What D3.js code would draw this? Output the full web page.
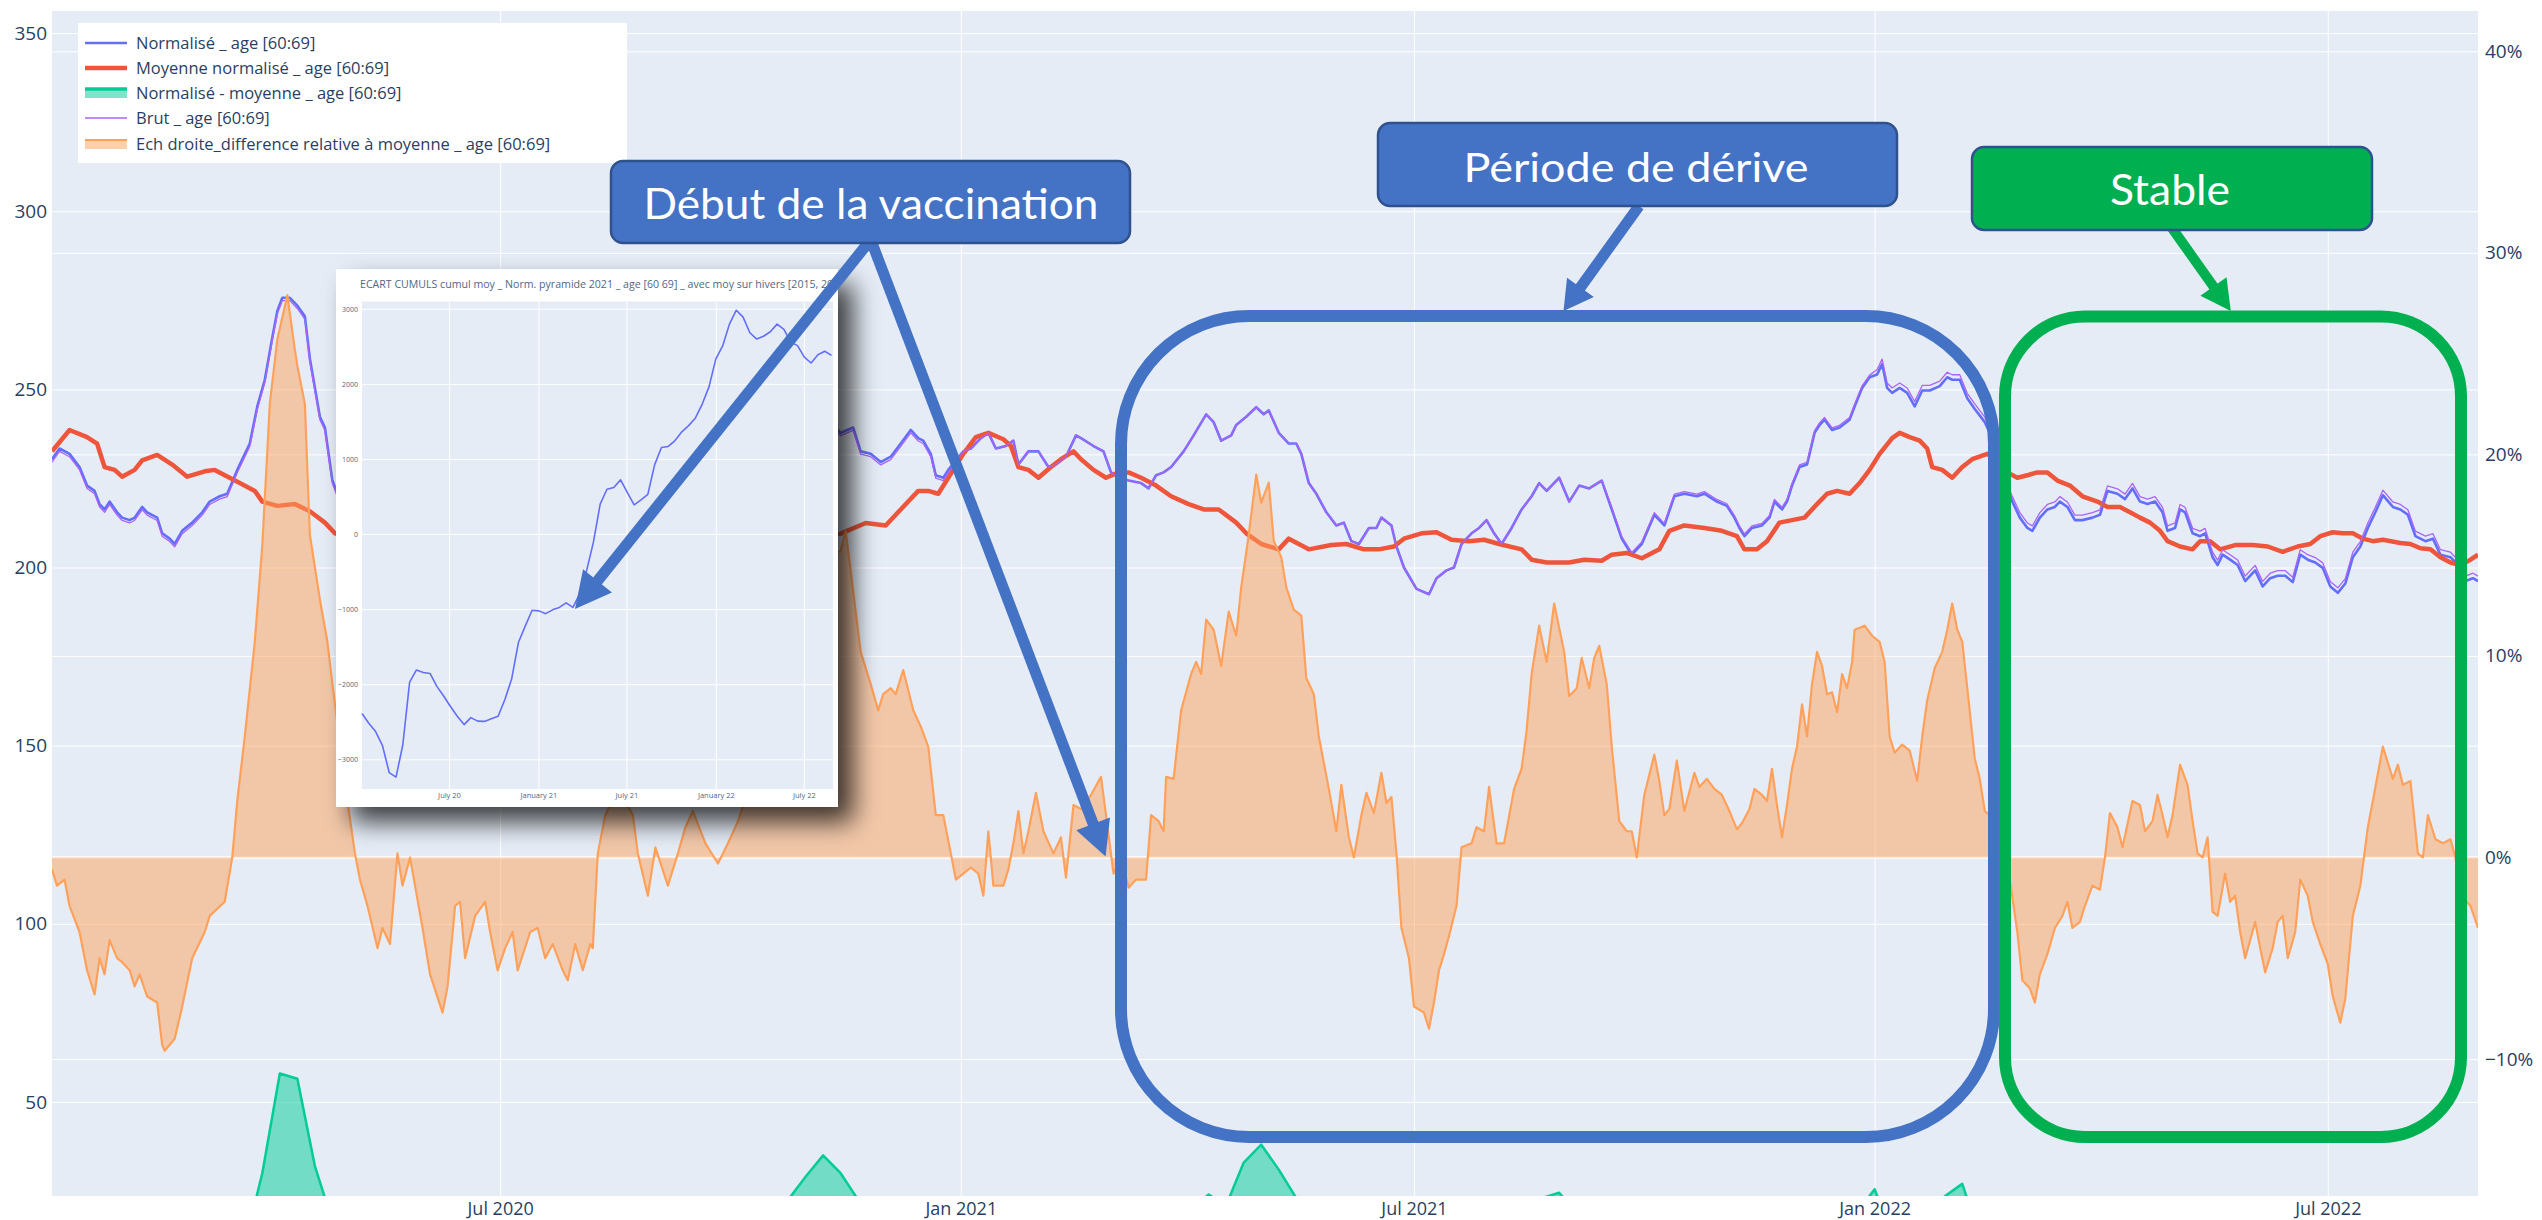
<!DOCTYPE html>
<html><head><meta charset="utf-8">
<script src="https://cdn.jsdelivr.net/npm/d3@7"></script>
<style>html,body{margin:0;padding:0;background:#fff;overflow:hidden}svg{display:block}</style>
</head><body>
<svg id="chart" width="2542" height="1220"></svg>
<script>
// ================= DATA =================
// x positions are given as days since startDate
const startDate = "2020-01-04";
const endDate = "2022-08-30";

// Normalisé _ age [60:69]  [day, value]
const normalisePts = [[0,230.4],[3,233.4],[7,231.9],[11,228.2],[14,223.0],[17,221.5],[19,217.8],[21,216.3],[23,218.5],[26,215.5],
[28,214.0],[31,213.3],[33,214.0],[36,217.0],[38,215.5],[42,214.0],[44,209.6],[47,208.1],[49,206.6],[52,210.3],
[56,212.6],[60,215.5],[63,218.5],[67,220.0],[70,220.7],[74,227.4],[79,234.8],[82,245.2],[85,252.7],[88,264.6],
[90,272.0],[92,275.7],[95,275.7],[98,273.5],[101,270.5],[103,258.6],[107,242.3],[109,239.3],[112,224.4],[119,211.5],
[126,202],[133,199],[140,203],[147,199],[154,190.5],[161,200.5],[168,199.5],[175,198],[182,198],[189,198],
[196,198],[203,197.5],[210,197],[217,204],[224,211.5],[231,209.5],[238,202],[245,202],[252,206.5],[259,208],
[266,206.5],[273,210],[280,216],[287,223.5],[294,231],[301,238.5],[308,243],[315,237.8],[320,239.3],[323,232.6],
[327,231.9],[331,229.6],[335,231.1],[339,234.8],[343,238.6],[346,236.3],[348,235.6],[351,231.9],[353,225.9],[356,225.2],
[358,227.4],[364,232.6],[367,233.4],[371,236.3],[374,237.8],[377,233.4],[381,234.1],[384,235.6],[386,228.9],[390,232.6],
[394,232.6],[398,228.2],[401,228.9],[405,231.1],[409,237.1],[411,236.3],[416,234.1],[420,232.6],[423,226.7],[426,225.2],
[430,224.4],[435,223.7],[438,222.2],[441,225.9],[444,226.7],[447,228.2],[452,232.6],[456,237.1],[461,243.0],[464,240.8],
[467,235.6],[471,237.1],[473,240.0],[477,242.3],[481,245.0],[484,243.0],[486,244.1],[490,237.8],[494,234.8],[497,234.8],
[499,231.9],[502,223.7],[505,220.7],[509,215.5],[513,211.8],[516,212.6],[519,207.4],[522,206.6],[526,211.1],[529,211.1],
[531,214.0],[535,211.8],[537,205.9],[540,200.0],[545,194.0],[550,192.5],[553,197.0],[557,199.2],[560,200.0],[563,206.6],
[567,209.6],[570,211.1],[573,213.3],[576,209.6],[579,206.6],[583,211.1],[587,216.3],[591,220.0],[594,223.7],[597,221.5],
[602,225.2],[606,218.5],[610,223.0],[614,222.2],[619,224.4],[623,216.3],[627,208.1],[631,203.6],[635,206.6],[640,214.8],
[644,211.8],[648,220.0],[652,220.7],[657,220.0],[660,220.7],[665,218.5],[669,217.3],[672,214.0],[674,211.1],[676,208.8],
[679,211.1],[683,211.8],[686,214.0],[688,218.5],[691,216.3],[693,218.5],[695,223.0],[698,228.2],[701,228.9],[704,237.8],
[706,240.0],[708,241.5],[711,238.6],[714,239.3],[718,241.5],[720,245.2],[723,250.4],[726,253.4],[729,254.2],[731,257.1],
[733,250.4],[735,249.0],[738,250.4],[741,249.0],[744,245.2],[747,249.7],[750,249.7],[754,250.9],[757,253.4],[759,252.7],
[762,252.7],[765,247.5],[768,244.5],[772,240.8],[775,236.3],[777,231.9],[780,224.4],[783,218.5],[786,214.0],[789,211.1],
[791,210.3],[794,214.0],[797,216.3],[800,217.0],[802,218.5],[805,217.0],[808,213.3],[811,213.3],[815,214.0],[818,214.8],
[821,221.5],[825,220.7],[828,219.2],[831,222.2],[834,218.5],[837,217.8],[840,218.5],[843,215.5],[845,210.3],[848,211.1],
[850,216.3],[852,215.5],[855,209.6],[858,208.8],[860,209.6],[863,202.9],[865,200.7],[867,203.6],[870,202.2],[873,200.7],
[876,196.2],[880,199.2],[883,194.7],[886,197.0],[889,197.7],[892,197.7],[895,195.9],[898,203.6],[901,202.2],[904,201.4],
[907,199.9],[910,194.7],[913,192.9],[916,195.5],[919,202.9],[922,205.9],[925,211.1],[928,215.5],[931,220.3],[935,217.0],
[938,216.3],[941,214.8],[944,208.8],[948,207.4],[951,208.1],[954,203.6],[958,202.9],[961,200.7],[964,196.2],[967,197.0],
[969,196.2]];

// Brut _ age [60:69]  [day, value]
const brutPts = [[0,229.6],[3,232.6],[7,231.1],[11,227.4],[14,222.2],[17,220.7],[19,217.0],[21,215.5],[23,217.7],[26,214.7],
[28,213.2],[31,212.5],[33,213.2],[36,216.2],[38,214.7],[42,213.2],[44,208.8],[47,207.3],[49,205.8],[52,209.5],
[56,211.8],[60,214.7],[63,217.7],[67,219.2],[70,219.9],[74,226.6],[79,234.0],[82,244.4],[85,251.9],[88,263.8],
[90,271.2],[92,274.9],[95,274.9],[98,272.7],[101,269.7],[103,257.8],[107,241.5],[109,238.5],[112,223.6],[119,210.7],
[126,201.2],[133,198.2],[140,202.2],[147,198.2],[154,189.7],[161,199.7],[168,198.7],[175,197.2],[182,197.2],[189,197.2],
[196,197.2],[203,196.7],[210,196.2],[217,203.2],[224,210.7],[231,208.7],[238,201.2],[245,201.2],[252,205.7],[259,207.2],
[266,205.7],[273,209.2],[280,215.2],[287,222.7],[294,230.2],[301,237.7],[308,242.2],[315,237.0],[320,238.5],[323,231.8],
[327,231.1],[331,228.8],[335,230.3],[339,234.0],[343,237.8],[346,235.5],[348,234.8],[351,231.1],[353,225.1],[356,224.4],
[358,226.6],[364,232.6],[367,233.4],[371,236.3],[374,237.8],[377,233.4],[381,234.1],[384,235.6],[386,228.9],[390,232.6],
[394,232.6],[398,228.2],[401,228.9],[405,231.1],[409,237.1],[411,236.3],[416,234.1],[420,232.6],[423,226.7],[426,225.2],
[430,224.4],[435,223.7],[438,222.2],[441,225.9],[444,226.7],[447,228.2],[452,232.6],[456,237.1],[461,243.0],[464,240.8],
[467,235.6],[471,237.1],[473,240.0],[477,242.3],[481,245.0],[484,243.0],[486,244.1],[490,237.8],[494,234.8],[497,234.8],
[499,231.9],[502,223.7],[505,220.7],[509,215.5],[513,211.8],[516,212.6],[519,207.4],[522,206.6],[526,211.1],[529,211.1],
[531,214.0],[535,211.8],[537,205.9],[540,200.0],[545,194.0],[550,192.5],[553,197.0],[557,199.2],[560,200.0],[563,206.6],
[567,209.6],[570,211.1],[573,213.3],[576,209.6],[579,206.6],[583,211.1],[587,216.3],[591,220.0],[594,223.7],[597,221.5],
[602,225.2],[606,218.5],[610,223.0],[614,222.2],[619,224.4],[623,216.9],[627,208.7],[631,204.2],[635,207.2],[640,215.4],
[644,212.4],[648,220.6],[652,221.3],[657,220.6],[660,221.3],[665,219.1],[669,217.9],[672,214.6],[674,211.7],[676,209.4],
[679,211.7],[683,212.4],[686,214.6],[688,219.1],[691,216.9],[693,219.1],[695,223.6],[698,228.8],[701,229.5],[704,238.4],
[706,240.6],[708,242.1],[711,239.2],[714,239.9],[718,242.1],[720,245.8],[723,251.0],[726,254.0],[729,255.6],[731,258.5],
[733,251.8],[735,250.4],[738,251.8],[741,250.4],[744,246.6],[747,251.1],[750,251.1],[754,252.3],[757,254.8],[759,254.1],
[762,254.1],[765,248.9],[768,245.9],[772,242.2],[775,237.7],[777,233.3],[780,225.8],[783,219.9],[786,215.4],[789,212.5],
[791,211.7],[794,215.4],[797,217.7],[800,218.4],[802,219.9],[805,218.4],[808,214.7],[811,214.7],[815,215.4],[818,216.2],
[821,222.9],[825,222.1],[828,220.6],[831,223.6],[834,219.9],[837,219.2],[840,219.9],[843,216.9],[845,211.7],[848,212.5],
[850,217.7],[852,216.9],[855,211.0],[858,210.2],[860,211.0],[863,204.3],[865,202.1],[867,205.0],[870,203.6],[873,202.1],
[876,197.6],[880,200.6],[883,196.1],[886,198.4],[889,199.1],[892,199.1],[895,197.3],[898,205.0],[901,203.6],[904,202.8],
[907,201.3],[910,196.1],[913,194.3],[916,196.9],[919,204.3],[922,207.3],[925,212.5],[928,216.9],[931,221.7],[935,218.4],
[938,217.7],[941,216.2],[944,210.2],[948,208.8],[951,209.5],[954,205.0],[958,204.3],[961,202.1],[964,197.6],[967,198.4],
[969,197.6]];

// Moyenne normalisé _ age [60:69]  [day, value]
const moyennePts = [[0,232.6],[7,238.6],[14,236.6],[18,234.8],[21,228.2],[25,227.4],[28,225.5],[33,227.4],[36,230.1],[42,231.6],
[48,228.9],[54,225.5],[61,227.0],[65,227.4],[69,225.9],[75,223.7],[81,221.5],[84,218.5],[90,217.3],[97,217.8],
[103,215.8],[109,212.6],[113,209.6],[119,208.5],[126,207],[133,206.5],[140,206],[147,205.5],[154,205],[161,205.5],
[168,206],[175,206.5],[182,207],[189,207],[196,207.5],[203,208],[210,207],[217,206.5],[224,206],[231,205.5],
[238,205],[245,204.5],[252,205],[259,205],[266,206],[273,207],[280,207.5],[287,208],[294,208.5],[301,209.5],
[308,209],[315,209.5],[325,212.5],[333,211.8],[339,216.3],[346,221.5],[350,221.5],[354,220.7],[358,225.2],[364,231.9],
[369,236.6],[374,237.8],[380,236.0],[383,234.1],[386,228.2],[390,227.4],[394,225.2],[399,228.2],[403,230.4],[408,232.6],
[411,230.4],[416,227.4],[421,225.2],[426,226.7],[430,226.7],[435,225.2],[441,223.0],[447,220.0],[454,217.8],[460,216.3],
[466,216.3],[473,212.6],[477,209.6],[483,206.6],[490,205.1],[494,208.1],[498,206.6],[502,205.1],[511,206.3],[517,206.6],
[524,205.1],[530,205.1],[536,205.9],[540,208.1],[547,209.6],[553,209.9],[559,207.8],[566,207.4],[572,207.8],[578,206.6],
[587,205.1],[591,202.2],[597,201.4],[606,201.4],[612,202.2],[619,201.9],[623,203.6],[629,204.1],[635,202.6],[642,205.1],
[646,210.3],[652,211.8],[660,211.1],[667,210.3],[673,208.8],[676,205.1],[681,205.1],[685,207.4],[690,212.6],[695,213.3],
[700,214.0],[705,217.8],[709,220.7],[713,221.5],[718,220.7],[722,223.7],[726,227.4],[730,231.9],[735,236.3],[738,237.8],
[742,236.6],[746,235.6],[749,233.4],[751,228.2],[755,227.4],[759,225.2],[763,228.2],[767,230.4],[773,231.9],[777,229.6],
[781,226.7],[785,225.2],[789,225.9],[793,226.7],[797,226.7],[801,224.4],[806,223.0],[811,220.0],[817,218.5],[821,217.0],
[826,217.0],[830,215.5],[834,214.0],[838,212.6],[842,210.3],[845,207.4],[850,205.9],[855,205.1],[858,207.4],[862,207.4],
[866,205.1],[872,206.3],[879,206.3],[885,205.9],[891,204.4],[897,205.9],[902,206.6],[906,208.8],[911,209.9],[915,209.6],
[919,209.6],[923,208.1],[927,207.4],[931,207.8],[938,206.9],[942,206.6],[946,205.4],[950,205.1],[954,202.9],[958,201.4],
[962,200.7],[966,202.2],[969,203.6]];

// Normalisé - moyenne _ age [60:69]  (weekly from startDate, last point at endDate)
const ecartStep = 7;
const ecart = [-2.6,-5.5,-13,-12.5,-11.5,-12.5,-18.5,-21,-13,-8.5,
-5.3,10,30,58,56.5,32,16.5,3,-5,-7.5,
-3,-6.5,-14.5,-5,-6.5,-8.5,-9,-9,-9.5,-10.5,
-10,-2.5,5.5,4,-3,-2.5,1.5,3,0.5,3,
8.5,15.5,22.5,29,35,30,22.5,18.5,17,19,
10.5,2.5,1,-0.5,-3,5.5,5.6,0.5,-2,6.5,
7.5,-1.7,-1.8,3.5,8.2,20,24,21,33,38,
31,23,17.8,8.2,3.5,6.5,8.5,-3,-15.5,-13,
-8,2.2,5.8,1.5,11.3,23,24.5,19,21.5,12.7,
1,5.4,5.1,11,9,7.8,4.5,6,7.5,5.7,
13,22,18,19,25.5,12.7,11.7,16,23.5,27,
12.5,1.3,-7,-16,-10,-6.5,-6.7,-3.8,4,5.3,
6.8,5,8.5,-0.4,-1.8,-7.8,-10.8,-7.5,-9.4,-4.6,
-13.6,-14.6,-3.6,10.2,9.6,3.2,2.7,1,-5,-7];

// Ech droite_difference relative à moyenne _ age [60:69]  [day, %]
const relDiffPts = [[0,-0.6],[2,-1.4],[5,-1.1],[7,-2.4],[11,-3.7],[14,-5.6],[17,-6.8],[19,-5.0],[21,-5.8],[23,-4.1],
[26,-5.0],[28,-5.2],[31,-5.6],[33,-6.4],[35,-5.8],[38,-6.9],[42,-7.2],[44,-9.3],[45,-9.6],[49,-9.0],
[52,-7.4],[56,-5.0],[61,-3.7],[63,-2.9],[69,-2.2],[72,0],[74,2.8],[77,6.0],[81,10.7],[84,15.5],
[87,22.5],[90,25.7],[94,27.9],[97,25.2],[98,24.4],[101,22.5],[103,16.0],[107,12.8],[110,10.7],[112,8.6],
[118,2.8],[121,0.2],[123,-1.1],[126,-2.4],[130,-4.5],[132,-3.5],[135,-4.3],[138,0.2],[140,-1.4],[143,0],
[145,-1.4],[148,-3.5],[151,-5.8],[156,-7.7],[158,-6.4],[161,-2.4],[163,-2.2],[165,-5.0],[169,-2.9],[173,-2.2],
[175,-3.7],[178,-5.6],[181,-4.5],[184,-3.7],[186,-5.6],[191,-3.7],[194,-3.5],[197,-5.0],[200,-4.3],[204,-5.6],
[206,-6.1],[209,-4.3],[212,-5.6],[215,-4.3],[216,-4.5],[218,0.2],[221,2.1],[223,2.6],[228,3.0],[232,2.1],
[234,0.2],[238,-1.9],[241,0.5],[246,-1.4],[250,0.2],[253,1.5],[256,2.3],[261,0.7],[266,-0.3],[270,0.7],
[274,1.8],[280,4.0],[287,7.5],[294,10.5],[301,13.0],[308,15.0],[315,15.2],[317,16.2],[323,10.2],[327,8.6],
[330,7.3],[332,8.1],[335,8.4],[337,8.1],[340,9.3],[344,7.3],[347,6.5],[350,5.5],[353,2.1],[356,2.1],
[359,0.2],[361,-1.1],[364,-0.8],[367,-0.5],[370,-0.8],[372,-1.9],[374,1.3],[376,-1.4],[380,-1.4],[382,-0.6],
[384,0.7],[386,2.3],[388,0.2],[390,1.3],[393,3.2],[396,1.3],[400,0.2],[403,1.0],[405,-1.0],[408,2.6],
[411,2.4],[415,3.1],[419,4.0],[421,2.1],[424,-0.8],[427,0],[430,-1.5],[433,-1.1],[437,-1.1],[439,2.1],
[442,1.8],[444,1.3],[445,4.0],[448,3.9],[451,7.3],[455,9.1],[457,9.7],[459,9.1],[461,11.8],[464,11.3],
[467,9.5],[470,12.2],[473,11.0],[475,13.4],[478,16.0],[481,19.0],[483,17.6],[486,18.6],[488,15.7],[491,14.9],
[493,13.4],[496,12.3],[499,12.0],[501,8.9],[504,8.1],[506,6.0],[510,3.4],[513,1.3],[515,3.6],[518,1.0],
[520,0],[523,2.1],[525,3.2],[528,2.2],[531,4.2],[533,2.7],[535,3.0],[537,0.2],[539,-3.5],[542,-5.0],
[544,-7.4],[548,-7.7],[550,-8.5],[552,-7.2],[554,-5.6],[556,-4.8],[558,-3.9],[561,-2.4],[563,0.5],[567,0.7],
[569,1.5],[572,1.3],[574,3.5],[577,0.7],[580,0.7],[584,3.4],[587,4.4],[589,6.3],[591,9.1],[594,11.5],
[597,9.7],[600,12.6],[604,10.2],[606,8.0],[609,8.4],[611,9.9],[614,8.4],[616,9.9],[618,10.5],[621,8.6],
[623,5.5],[626,1.8],[629,1.3],[631,1.3],[633,0],[636,3.1],[640,5.1],[642,3.8],[644,2.1],[646,2.4],
[649,4.8],[652,2.3],[656,4.2],[658,3.5],[661,3.9],[664,3.4],[667,3.1],[670,2.3],[673,1.4],[675,1.7],
[678,2.4],[680,3.4],[683,3.1],[685,2.8],[687,4.4],[689,2.6],[691,1.0],[693,2.6],[695,4.4],[697,5.5],
[699,7.6],[701,6.0],[703,8.6],[705,10.2],[707,9.5],[709,8.1],[711,8.2],[713,7.2],[715,9.1],[717,8.4],
[719,9.7],[720,11.3],[724,11.5],[727,11.0],[730,10.7],[732,9.7],[734,6.0],[736,5.2],[739,5.6],[742,5.3],
[745,3.8],[747,6.0],[749,7.8],[752,9.4],[755,10.2],[757,11.3],[759,12.6],[761,11.3],[763,10.7],[765,8.4],
[768,4.9],[770,3.9],[772,2.3],[774,2.1],[777,0.2],[779,-0.8],[782,-1.1],[785,-3.7],[787,-6.1],[790,-6.5],
[792,-7.2],[794,-5.8],[797,-4.8],[800,-3.5],[803,-2.9],[805,-2.2],[807,-3.5],[810,-3.2],[812,-2.4],[815,-1.4],
[818,-1.6],[820,0],[822,2.2],[825,1.5],[827,0.5],[831,2.8],[834,2.6],[836,1.3],[839,1.8],[841,3.1],
[843,2.1],[845,1.0],[847,2.1],[850,4.6],[853,3.6],[855,1.8],[857,0.2],[859,0],[861,1.0],[863,-2.7],
[865,-2.9],[868,-0.8],[870,-2.2],[872,-1.9],[874,-3.7],[876,-5.0],[880,-3.2],[882,-4.5],[884,-5.7],[887,-4.5],
[889,-3.2],[891,-2.9],[893,-5.0],[896,-3.7],[898,-1.1],[901,-1.9],[903,-3.2],[906,-4.3],[909,-5.3],[911,-6.9],
[914,-8.2],[916,-7.0],[919,-2.9],[922,-1.4],[925,1.5],[927,2.8],[931,5.5],[935,3.9],[937,4.6],[939,3.6],
[942,3.8],[945,0.2],[947,0],[949,2.1],[952,0.9],[955,0.7],[958,0.9],[960,0],[962,-1.9],[966,-2.4],
[969,-3.5]];

const seriesNames = ["Normalisé _ age [60:69]","Moyenne normalisé _ age [60:69]","Normalisé - moyenne _ age [60:69]","Brut _ age [60:69]","Ech droite_difference relative à moyenne _ age [60:69]"];
const leftTicks = [50,100,150,200,250,300,350];
const rightTicks = [-10,0,10,20,30,40];
const xTickDates = ["2020-07-01","2021-01-01","2021-07-01","2022-01-01","2022-07-01"];
const xTickLabels = ["Jul 2020","Jan 2021","Jul 2021","Jan 2022","Jul 2022"];

// Inset: ECART CUMULS (every 14 days from startDate)
const insetStep = 14;
const insetValues = [-2389,-2519,-2630,-2815,-3176,-3236,-2806,-1972,-1810,-1843,
-1856,-2028,-2157,-2296,-2426,-2537,-2444,-2491,-2495,-2458,
-2426,-2204,-1926,-1440,-1222,-1014,-1023,-1060,-1009,-977,
-917,-977,-792,-491,-111,398,597,620,722,551,
389,454,528,921,1153,1167,1245,1361,1444,1546,
1731,1963,2333,2505,2796,2981,2889,2681,2597,2634,
2694,2796,2727,2556,2509,2356,2278,2389,2435,2380];
const insetYTicks = [-3000,-2000,-1000,0,1000,2000,3000];
const insetXTickLabels = ["July 20","January 21","July 21","January 22","July 22"];
const insetTitle = "ECART CUMULS cumul moy _ Norm. pyramide 2021 _ age [60 69] _ avec moy sur hivers [2015, 2019]";

const noteTexts = ["Début de la vaccination","Période de dérive","Stable"];

// ================= DRAW =================
const svg = d3.select("#chart");
const X0 = 52, X1 = 2478, Y0 = 11, Y1 = 1196;
const parse = d3.utcParse("%Y-%m-%d");
const t0 = parse(startDate), tEnd = parse(endDate);
const dayToDate = d => d3.utcDay.offset(t0, d);

const x = d3.scaleUtc().domain([t0, tEnd]).range([X0, X1]);
const yL = d3.scaleLinear().domain([23.6, 356.2]).range([Y1, Y0]);
const yR = d3.scaleLinear().domain([-16.8, 42]).range([Y1, Y0]);

const defs = svg.append("defs");
defs.append("clipPath").attr("id", "plotClip").append("rect")
  .attr("x", X0).attr("y", Y0).attr("width", X1 - X0).attr("height", Y1 - Y0);
const filt = defs.append("filter").attr("id", "shadow")
  .attr("x", "-20%").attr("y", "-20%").attr("width", "150%").attr("height", "150%");
filt.append("feDropShadow").attr("dx", 15).attr("dy", 15).attr("stdDeviation", 13)
  .attr("flood-color", "#000").attr("flood-opacity", 0.75);

svg.append("rect").attr("x", 0).attr("y", 0).attr("width", 2542).attr("height", 1220).attr("fill", "#fff");
svg.append("rect").attr("x", X0).attr("y", Y0).attr("width", X1 - X0).attr("height", Y1 - Y0).attr("fill", "#e5ecf6");

const FONT = "'Open Sans', verdana, arial, sans-serif";
const TXT = "#2a3f5f";

function styleAxis(g, fs) {
  g.select(".domain").remove();
  g.selectAll(".tick line").attr("stroke", "#fff").attr("stroke-width", 1);
  g.selectAll(".tick text").attr("fill", TXT).style("font-family", FONT).style("font-size", fs + "px");
}
svg.append("g").attr("transform", `translate(0,${Y1})`)
  .call(d3.axisBottom(x).tickValues(xTickDates.map(parse)).tickFormat((d, i) => xTickLabels[i])
    .tickSize(-(Y1 - Y0)).tickPadding(6))
  .call(g => styleAxis(g, 18));
svg.append("g").attr("transform", `translate(${X0},0)`)
  .call(d3.axisLeft(yL).tickValues(leftTicks).tickSize(-(X1 - X0)).tickPadding(5))
  .call(g => styleAxis(g, 19));
svg.append("g").attr("transform", `translate(${X1},0)`)
  .call(d3.axisRight(yR).tickValues(rightTicks)
    .tickFormat(d => (d < 0 ? "\u2212" : "") + Math.abs(d) + "%")
    .tickSize(-(X1 - X0)).tickPadding(7))
  .call(g => styleAxis(g, 19));
svg.append("line").attr("x1", X0).attr("x2", X1).attr("y1", yR(0)).attr("y2", yR(0))
  .attr("stroke", "#fff").attr("stroke-width", 2.5);

const plot = svg.append("g").attr("clip-path", "url(#plotClip)");
const lineL = d3.line().x(p => x(dayToDate(p[0]))).y(p => yL(p[1]));
const ecartRows = ecart.map((v, i) => ({d: i === ecart.length - 1 ? tEnd : d3.utcDay.offset(t0, ecartStep * i), v}));

plot.append("path").datum(normalisePts).attr("d", lineL)
  .attr("fill", "none").attr("stroke", "#636efa").attr("stroke-width", 2.6).attr("stroke-linejoin", "round");
plot.append("path").datum(moyennePts).attr("d", lineL)
  .attr("fill", "none").attr("stroke", "#EF553B").attr("stroke-width", 4.5).attr("stroke-linejoin", "round");
plot.append("path").datum(ecartRows)
  .attr("d", d3.area().x(p => x(p.d)).y0(yL(0)).y1(p => yL(p.v)))
  .attr("fill", "rgba(0,204,150,0.5)");
plot.append("path").datum(ecartRows)
  .attr("d", d3.line().x(p => x(p.d)).y(p => yL(p.v)))
  .attr("fill", "none").attr("stroke", "#00cc96").attr("stroke-width", 2.5).attr("stroke-linejoin", "round");
plot.append("path").datum(brutPts).attr("d", lineL)
  .attr("fill", "none").attr("stroke", "#ab63fa").attr("stroke-width", 1.3).attr("stroke-linejoin", "round");
plot.append("path").datum(relDiffPts)
  .attr("d", d3.area().x(p => x(dayToDate(p[0]))).y0(yR(0)).y1(p => yR(p[1])))
  .attr("fill", "rgba(255,161,90,0.5)");
plot.append("path").datum(relDiffPts)
  .attr("d", d3.line().x(p => x(dayToDate(p[0]))).y(p => yR(p[1])))
  .attr("fill", "none").attr("stroke", "#FFA15A").attr("stroke-width", 2.2).attr("stroke-linejoin", "round");

// ---- legend ----
const lg = svg.append("g");
lg.append("rect").attr("x", 78).attr("y", 23).attr("width", 549).attr("height", 140).attr("fill", "#fff");
const rowY = [43, 68, 93, 118, 144];
const sym = [
  {c: "#636efa", w: 2.6},
  {c: "#EF553B", w: 4.5},
  {c: "#00cc96", w: 3.5, fill: "rgba(0,204,150,0.5)"},
  {c: "#ab63fa", w: 1.3},
  {c: "#FFA15A", w: 2, fill: "rgba(255,161,90,0.5)"}
];
seriesNames.forEach((name, i) => {
  const yy = rowY[i];
  if (sym[i].fill) {
    lg.append("rect").attr("x", 85).attr("y", yy - 5).attr("width", 42).attr("height", 10).attr("fill", sym[i].fill);
    lg.append("line").attr("x1", 85).attr("x2", 127).attr("y1", yy - 4).attr("y2", yy - 4)
      .attr("stroke", sym[i].c).attr("stroke-width", sym[i].w);
  } else {
    lg.append("line").attr("x1", 85).attr("x2", 127).attr("y1", yy).attr("y2", yy)
      .attr("stroke", sym[i].c).attr("stroke-width", sym[i].w);
  }
  lg.append("text").attr("x", 136).attr("y", yy).attr("dy", "0.35em").text(name)
    .attr("fill", TXT).style("font-family", FONT).style("font-size", "16.5px");
});

// ---- inset (pasted chart) ----
const IB = {x: 336, y: 269, w: 502, h: 538};
const IP = {x0: 362, x1: 833, y0: 301.5, y1: 789};
defs.append("clipPath").attr("id", "insetClip").append("rect")
  .attr("x", IB.x).attr("y", IB.y).attr("width", IB.w).attr("height", IB.h);
const ins = svg.append("g");
ins.append("rect").attr("x", IB.x).attr("y", IB.y).attr("width", IB.w).attr("height", IB.h)
  .attr("fill", "#fff").attr("filter", "url(#shadow)");
const ig = ins.append("g").attr("clip-path", "url(#insetClip)");
ig.append("rect").attr("x", IP.x0).attr("y", IP.y0).attr("width", IP.x1 - IP.x0).attr("height", IP.y1 - IP.y0).attr("fill", "#e5ecf6");
const ix = d3.scaleUtc().domain([t0, tEnd]).range([IP.x0, IP.x1]);
const iy = d3.scaleLinear().domain([-3395, 3097]).range([IP.y1, IP.y0]);
ig.append("g").attr("transform", `translate(0,${IP.y1})`)
  .call(d3.axisBottom(ix).tickValues(xTickDates.map(parse)).tickFormat((d, i) => insetXTickLabels[i])
    .tickSize(-(IP.y1 - IP.y0)).tickPadding(4))
  .call(g => { styleAxis(g, 7.5); g.selectAll(".tick text").attr("fill", "#506784"); });
ig.append("g").attr("transform", `translate(${IP.x0},0)`)
  .call(d3.axisLeft(iy).tickValues(insetYTicks).tickFormat(d => (d < 0 ? "\u2212" : "") + Math.abs(d))
    .tickSize(-(IP.x1 - IP.x0)).tickPadding(4))
  .call(g => { styleAxis(g, 7); g.selectAll(".tick text").attr("fill", "#506784"); });
const insetDates = insetValues.map((_, i) => d3.utcDay.offset(t0, insetStep * i));
ig.append("path").datum(insetValues)
  .attr("d", d3.line().x((v, i) => ix(insetDates[i])).y(v => iy(v)))
  .attr("fill", "none").attr("stroke", "#636efa").attr("stroke-width", 1.6).attr("stroke-linejoin", "round");
ig.append("text").attr("x", 360).attr("y", 288).text(insetTitle)
  .attr("fill", "#506784").style("font-family", FONT).style("font-size", "10.6px");

// ---- rounded frames ----
svg.append("rect").attr("x", 1121).attr("y", 316).attr("width", 873).attr("height", 821)
  .attr("rx", 128).attr("ry", 128).attr("fill", "none").attr("stroke", "#4472c4").attr("stroke-width", 12);
svg.append("rect").attr("x", 2005).attr("y", 316.5).attr("width", 456).attr("height", 820.5)
  .attr("rx", 80).attr("ry", 80).attr("fill", "none").attr("stroke", "#00b050").attr("stroke-width", 12);

// ---- arrows ----
function arrow(sx, sy, tx, ty, w, L, Hw, color) {
  const dx = tx - sx, dy = ty - sy, len = Math.hypot(dx, dy);
  const ux = dx / len, uy = dy / len, px = -uy, py = ux;
  const bx = tx - ux * L, by = ty - uy * L;
  svg.append("line").attr("x1", sx).attr("y1", sy).attr("x2", bx + ux * 2).attr("y2", by + uy * 2)
    .attr("stroke", color).attr("stroke-width", w);
  svg.append("polygon").attr("points",
    [[tx, ty], [bx + px * Hw / 2, by + py * Hw / 2], [bx - px * Hw / 2, by - py * Hw / 2]].map(p => p.join(",")).join(" "))
    .attr("fill", color);
}
arrow(868, 243, 575, 609, 11, 36, 37, "#4472c4");
arrow(872, 243, 1105.6, 856.6, 11, 35, 36, "#4472c4");
arrow(1639, 206, 1563.5, 311, 11, 29, 33, "#4472c4");
arrow(2172, 228, 2230.8, 311, 10, 30, 32, "#00b050");

// ---- text boxes ----
const boxes = [
  {x: 611, y: 161, w: 519, h: 82, fill: "#4472c4", tx: 871, ty: 219, fs: 42, tl: 455},
  {x: 1378, y: 123, w: 519, h: 83, fill: "#4472c4", tx: 1636, ty: 182, fs: 40, tl: 345},
  {x: 1972, y: 147, w: 400, h: 83, fill: "#00b050", tx: 2170, ty: 205, fs: 42, tl: 120}
];
boxes.forEach((b, i) => {
  svg.append("rect").attr("x", b.x).attr("y", b.y).attr("width", b.w).attr("height", b.h)
    .attr("rx", 12).attr("fill", b.fill).attr("stroke", "#2f528f").attr("stroke-width", 2.5);
  svg.append("text").attr("x", b.tx).attr("y", b.ty).attr("text-anchor", "middle")
    .attr("textLength", b.tl).attr("lengthAdjust", "spacingAndGlyphs")
    .attr("fill", "#fff").style("font-family", "Lato, 'Open Sans', sans-serif").style("font-size", b.fs + "px")
    .text(noteTexts[i]);
});
</script>
</body></html>
